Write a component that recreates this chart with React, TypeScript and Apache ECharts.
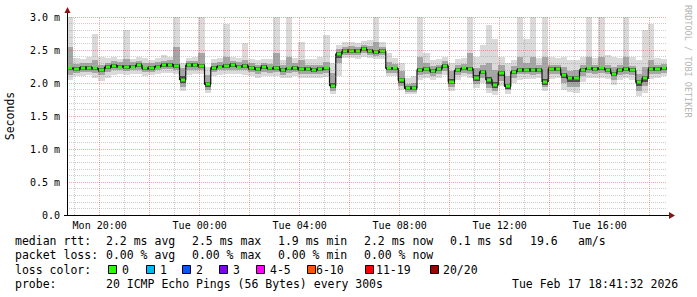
import React, { useEffect, useRef } from 'react';
import * as echarts from 'echarts';

// time axis: hours since Mon 00:00; graph ends Tue 18:41:32, 24 h window, 15 min bins
const START_HOUR = 18 + 41 / 60 + 32 / 3600;
const END_HOUR = START_HOUR + 24;
const STEP_HOURS = 0.25;

// median rtt (ms) per bin
const medianRtt = [
  2.22, 2.21, 2.23, 2.23, 2.22, 2.20, 2.24, 2.26, 2.25, 2.24,
  2.25, 2.27, 2.22, 2.23, 2.25, 2.27, 2.28, 2.26, 2.05, 2.27,
  2.27, 2.26, 1.98, 2.23, 2.25, 2.26, 2.27, 2.25, 2.26, 2.23,
  2.21, 2.24, 2.22, 2.23, 2.19, 2.22, 2.23, 2.21, 2.21, 2.20,
  2.21, 2.22, 1.96, 2.44, 2.48, 2.49, 2.48, 2.51, 2.49, 2.47,
  2.48, 2.22, 2.22, 2.04, 1.92, 1.92, 2.20, 2.21, 2.18, 2.21,
  2.26, 2.02, 2.19, 2.22, 2.21, 2.08, 2.17, 2.05, 1.97, 2.15,
  1.95, 2.17, 2.20, 2.20, 2.19, 2.20, 2.02, 2.21, 2.21, 2.12,
  2.07, 2.08, 2.20, 2.22, 2.21, 2.22, 2.20, 2.14, 2.20, 2.21,
  2.19, 2.01, 2.07, 2.21, 2.21, 2.22,
];
// slowest ping per bin
const maxRtt = [
  3.00, 2.38, 2.36, 2.40, 2.75, 2.40, 2.38, 2.40, 2.36, 2.80,
  2.37, 2.40, 2.38, 2.35, 2.38, 2.42, 2.40, 3.00, 2.30, 2.38,
  2.40, 3.00, 2.25, 2.36, 2.38, 2.90, 2.40, 2.38, 2.60, 2.36,
  2.35, 2.37, 2.36, 3.00, 2.35, 3.00, 2.38, 2.62, 2.37, 2.36,
  2.40, 2.72, 2.30, 2.58, 2.62, 2.62, 2.60, 2.64, 2.65, 3.00,
  2.62, 2.45, 2.38, 2.30, 2.08, 2.10, 3.00, 2.45, 2.35, 2.36,
  2.40, 2.30, 2.36, 2.38, 3.00, 2.40, 2.58, 2.88, 2.67, 2.40,
  2.30, 2.35, 3.00, 2.67, 3.00, 2.38, 3.00, 2.40, 2.38, 2.40,
  2.35, 2.35, 2.40, 3.00, 2.38, 3.00, 2.42, 2.40, 2.38, 3.00,
  2.40, 2.35, 2.80, 2.90, 2.38, 2.36,
];
// fastest ping per bin
const minRtt = [
  2.05, 2.10, 2.10, 2.12, 2.08, 2.03, 2.08, 2.12, 2.13, 2.12,
  2.13, 2.14, 2.10, 2.12, 2.13, 2.15, 2.15, 2.14, 1.88, 2.12,
  2.14, 2.14, 1.85, 2.10, 2.12, 2.13, 2.14, 2.13, 2.12, 2.10,
  2.08, 2.10, 2.10, 2.10, 2.07, 2.08, 2.10, 2.08, 2.08, 2.07,
  2.08, 2.09, 1.84, 2.10, 2.38, 2.38, 2.37, 2.40, 2.38, 2.37,
  2.36, 2.10, 2.10, 1.90, 1.84, 1.83, 2.05, 2.08, 2.05, 2.08,
  2.12, 1.88, 2.05, 2.10, 2.08, 1.92, 2.00, 1.85, 1.82, 1.95,
  1.84, 2.00, 2.05, 2.06, 2.06, 2.08, 1.88, 2.06, 2.08, 1.90,
  1.86, 1.85, 2.02, 2.08, 2.08, 2.08, 2.06, 1.97, 2.05, 2.07,
  2.05, 1.80, 1.85, 2.06, 2.08, 2.10,
];
// 90th percentile ping
const p90Rtt = [
  2.55, 2.29, 2.30, 2.31, 2.35, 2.28, 2.31, 2.33, 2.32, 2.36,
  2.32, 2.34, 2.30, 2.30, 2.32, 2.34, 2.35, 2.55, 2.22, 2.34,
  2.34, 2.45, 2.12, 2.30, 2.32, 2.40, 2.34, 2.32, 2.35, 2.30,
  2.28, 2.31, 2.29, 2.45, 2.27, 2.40, 2.30, 2.35, 2.28, 2.27,
  2.28, 2.32, 2.15, 2.52, 2.55, 2.56, 2.55, 2.58, 2.56, 2.62,
  2.55, 2.32, 2.29, 2.18, 1.99, 2.00, 2.40, 2.30, 2.26, 2.28,
  2.33, 2.18, 2.27, 2.29, 2.45, 2.22, 2.28, 2.30, 2.20, 2.27,
  2.10, 2.26, 2.40, 2.30, 2.40, 2.28, 2.40, 2.28, 2.28, 2.24,
  2.18, 2.19, 2.28, 2.40, 2.28, 2.40, 2.28, 2.24, 2.27, 2.40,
  2.26, 2.14, 2.25, 2.35, 2.28, 2.29,
];
// 10th percentile ping
const p10Rtt = [
  2.12, 2.15, 2.16, 2.17, 2.15, 2.12, 2.17, 2.19, 2.19, 2.18,
  2.19, 2.20, 2.16, 2.17, 2.19, 2.21, 2.21, 2.19, 1.94, 2.19,
  2.20, 2.19, 1.90, 2.16, 2.19, 2.19, 2.20, 2.19, 2.19, 2.16,
  2.14, 2.17, 2.15, 2.16, 2.12, 2.15, 2.16, 2.14, 2.14, 2.13,
  2.14, 2.15, 1.88, 2.30, 2.42, 2.43, 2.42, 2.45, 2.43, 2.41,
  2.42, 2.15, 2.15, 1.96, 1.87, 1.87, 2.12, 2.14, 2.11, 2.14,
  2.18, 1.94, 2.12, 2.15, 2.14, 1.99, 2.08, 1.93, 1.88, 2.03,
  1.89, 2.08, 2.13, 2.13, 2.12, 2.13, 1.94, 2.14, 2.14, 2.00,
  1.94, 1.94, 2.11, 2.15, 2.14, 2.15, 2.13, 2.04, 2.12, 2.14,
  2.12, 1.88, 1.95, 2.13, 2.14, 2.15,
];
// upper quartile
const q3Rtt = [
  2.25, 2.24, 2.26, 2.26, 2.25, 2.23, 2.27, 2.29, 2.28, 2.27,
  2.28, 2.30, 2.25, 2.26, 2.28, 2.30, 2.31, 2.29, 2.10, 2.30,
  2.30, 2.29, 2.02, 2.26, 2.28, 2.29, 2.30, 2.28, 2.29, 2.26,
  2.24, 2.27, 2.25, 2.26, 2.22, 2.25, 2.26, 2.24, 2.24, 2.23,
  2.24, 2.25, 2.00, 2.47, 2.51, 2.52, 2.51, 2.54, 2.52, 2.50,
  2.51, 2.25, 2.25, 2.08, 1.95, 1.95, 2.23, 2.24, 2.21, 2.24,
  2.29, 2.06, 2.22, 2.25, 2.24, 2.12, 2.20, 2.09, 2.01, 2.18,
  1.99, 2.20, 2.23, 2.23, 2.22, 2.23, 2.06, 2.24, 2.24, 2.15,
  2.10, 2.11, 2.23, 2.25, 2.24, 2.25, 2.23, 2.17, 2.23, 2.24,
  2.22, 2.05, 2.10, 2.24, 2.24, 2.25,
];
// lower quartile
const q1Rtt = [
  2.19, 2.18, 2.20, 2.20, 2.19, 2.17, 2.21, 2.23, 2.22, 2.21,
  2.22, 2.24, 2.19, 2.20, 2.22, 2.24, 2.25, 2.23, 2.00, 2.24,
  2.24, 2.23, 1.94, 2.20, 2.22, 2.23, 2.24, 2.22, 2.23, 2.20,
  2.18, 2.21, 2.19, 2.20, 2.16, 2.19, 2.20, 2.18, 2.18, 2.17,
  2.18, 2.19, 1.92, 2.38, 2.45, 2.46, 2.45, 2.48, 2.46, 2.44,
  2.45, 2.19, 2.19, 2.00, 1.89, 1.89, 2.17, 2.18, 2.15, 2.18,
  2.23, 1.98, 2.16, 2.19, 2.18, 2.03, 2.13, 1.99, 1.92, 2.10,
  1.91, 2.13, 2.17, 2.17, 2.16, 2.17, 1.97, 2.18, 2.18, 2.07,
  2.01, 2.02, 2.17, 2.19, 2.18, 2.19, 2.17, 2.10, 2.17, 2.18,
  2.16, 1.95, 2.02, 2.18, 2.18, 2.19,
];

const X_TICK_HOURS = [20, 24, 28, 32, 36, 40];
const X_TICK_LABELS = ['Mon 20:00', 'Tue 00:00', 'Tue 04:00', 'Tue 08:00', 'Tue 12:00', 'Tue 16:00'];
const HOUR_GRID = [19, 20, 21, 22, 23, 24, 25, 26, 27, 28, 29, 30, 31, 32, 33, 34, 35, 36, 37, 38, 39, 40, 41, 42];
const Y_TICK_LABELS = ['0.0', '0.5 m', '1.0 m', '1.5 m', '2.0 m', '2.5 m', '3.0 m'];

const RTT_ROW = ['median rtt:', '2.2 ms avg', '2.5 ms max', '1.9 ms min', '2.2 ms now', '0.1 ms sd', '19.6', 'am/s'];
const LOSS_ROW = ['packet loss:', '0.00 % avg', '0.00 % max', '0.00 % min', '0.00 % now'];
const LOSS_LABELS = ['0', '1', '2', '3', '4-5', '6-10', '11-19', '20/20'];
const LOSS_COLORS = ['#26ff00', '#00b8ff', '#0059ff', '#7e00ff', '#ff00ff', '#ff5500', '#ff0000', '#a10000'];
const PROBE_ROW = ['probe:', '20 ICMP Echo Pings (56 Bytes) every 300s', 'Tue Feb 17 18:41:32 2026'];

// layout (pixels)
const COL_X = [15, 106, 192, 278, 364, 450, 530, 578];
const BOX_X = [108, 146, 182, 219, 256, 307, 365, 430];
const LOSS_LABEL_X = [122, 160, 196, 233, 270, 316, 376, 443];
const ROW_Y = [241, 255, 269.5, 283.5];
const MONO = 'DejaVu Sans Mono';

const binTime = (i: number) => START_HOUR + (i + 0.5) * STEP_HOURS;

export default function App() {
  const ref = useRef<HTMLDivElement>(null);
  useEffect(() => {
    if (!ref.current) return;
    const chart = echarts.init(ref.current, undefined, { renderer: 'svg' });

    const smokeData = medianRtt.map((_, i) => [binTime(i), minRtt[i], p10Rtt[i], q1Rtt[i], q3Rtt[i], p90Rtt[i], maxRtt[i]]);
    const medData = medianRtt.map((v, i) => [binTime(i), v]);

    const txt = (x: number, y: number, text: string, extra: any = {}) => ({
      type: 'text', x, y, silent: true,
      style: { text, fill: '#000', font: `11.5px "${MONO}"`, textVerticalAlign: 'middle', textAlign: 'left', ...extra },
    });

    const graphics: any[] = [];
    RTT_ROW.forEach((s, i) => graphics.push(txt(COL_X[i], ROW_Y[0], s)));
    LOSS_ROW.forEach((s, i) => graphics.push(txt(COL_X[i], ROW_Y[1], s)));
    graphics.push(txt(COL_X[0], ROW_Y[2], 'loss color:'));
    LOSS_LABELS.forEach((s, i) => {
      graphics.push({ type: 'rect', silent: true, shape: { x: BOX_X[i] + 0.5, y: 265.5, width: 8, height: 8 }, style: { fill: LOSS_COLORS[i], stroke: '#000', lineWidth: 1 } });
      graphics.push(txt(LOSS_LABEL_X[i], ROW_Y[2], s));
    });
    graphics.push(txt(COL_X[0], ROW_Y[3], PROBE_ROW[0]));
    graphics.push(txt(COL_X[1], ROW_Y[3], PROBE_ROW[1]));
    graphics.push(txt(512, ROW_Y[3], PROBE_ROW[2]));
    // y axis title
    graphics.push({ type: 'text', x: 10, y: 116, rotation: Math.PI / 2, silent: true, style: { text: 'Seconds', fill: '#000', font: `11.5px "${MONO}"`, textAlign: 'center', textVerticalAlign: 'middle' } });
    // watermark
    graphics.push({ type: 'text', x: 688, y: 5, rotation: -Math.PI / 2, silent: true, style: { text: 'RRDTOOL / TOBI OETIKER', fill: '#b4b4b4', font: `8.5px "${MONO}"`, textAlign: 'left', textVerticalAlign: 'middle' } });
    // axis extensions and arrows
    graphics.push({ type: 'line', silent: true, shape: { x1: 67.5, y1: 17, x2: 67.5, y2: 11 }, style: { stroke: '#000', lineWidth: 1 }, z: 100 });
    graphics.push({ type: 'line', silent: true, shape: { x1: 64, y1: 215.5, x2: 670, y2: 215.5 }, style: { stroke: '#000', lineWidth: 1 }, z: 100 });
    graphics.push({ type: 'polygon', silent: true, shape: { points: [[64.5, 13], [70.5, 13], [67.5, 7]] }, style: { fill: '#8b1010' }, z: 100 });
    graphics.push({ type: 'polygon', silent: true, shape: { points: [[669, 212], [669, 219], [675, 215.5]] }, style: { fill: '#8b1010' }, z: 100 });

    const majorColor = 'rgba(230,60,60,0.45)';
    const minorColor = 'rgba(130,130,130,0.38)';

    chart.setOption({
      animation: false,
      backgroundColor: '#fff',
      grid: { left: 67, top: 17, width: 600, height: 198, containLabel: false },
      xAxis: {
        type: 'value', min: START_HOUR, max: END_HOUR, z: 5,
        axisLine: { show: true, lineStyle: { color: '#000', width: 1 } },
        axisTick: { show: false },
        splitLine: { show: false },
        axisLabel: {
          customValues: X_TICK_HOURS,
          formatter: (v: number) => X_TICK_LABELS[X_TICK_HOURS.indexOf(Math.round(v))] ?? '',
          fontFamily: MONO, fontSize: 10, color: '#000', margin: 5,
        },
      },
      yAxis: {
        type: 'value', min: 0, max: 3, interval: 0.5, z: 5,
        axisLine: { show: true, lineStyle: { color: '#000', width: 1 } },
        axisTick: { show: false },
        axisLabel: {
          formatter: (v: number) => Y_TICK_LABELS[Math.round(v / 0.5)],
          fontFamily: MONO, fontSize: 10, color: '#000', margin: 7,
        },
        splitLine: { show: true, lineStyle: { color: majorColor, type: [1, 1], width: 1 } },
        minorTick: { show: false, splitNumber: 5 },
        minorSplitLine: { show: true, lineStyle: { color: minorColor, type: [1, 1], width: 1 } },
      },
      series: [
        {
          type: 'custom', z: 2, clip: true, silent: true,
          data: smokeData,
          encode: { x: 0, y: [1, 6] },
          renderItem: (params: any, api: any) => {
            const t = api.value(0);
            const xa = Math.round(api.coord([t - STEP_HOURS / 2, 0])[0]);
            const xb = Math.round(api.coord([t + STEP_HOURS / 2, 0])[0]);
            const band = (lo: number, hi: number, fill: string) => {
              const y1 = Math.round(api.coord([t, hi])[1]);
              const y2 = Math.round(api.coord([t, lo])[1]);
              return { type: 'rect', shape: { x: xa, y: y1, width: xb - xa, height: Math.max(1, y2 - y1) }, style: { fill } };
            };
            return {
              type: 'group',
              children: [
                band(api.value(1), api.value(6), '#dadada'),
                band(api.value(2), api.value(5), '#a6a6a6'),
                band(api.value(3), api.value(4), '#4a4a4a'),
              ],
            };
          },
        },
        {
          type: 'line', z: 3, silent: true,
          data: medData, step: 'middle', symbol: 'none',
          lineStyle: { color: '#111', width: 1.2 },
        },
        {
          type: 'custom', z: 4, clip: true, silent: true,
          data: medData,
          encode: { x: 0, y: 1 },
          renderItem: (params: any, api: any) => {
            const t = api.value(0);
            const v = api.value(1);
            const xa = Math.round(api.coord([t - STEP_HOURS / 2, v])[0]) + 1;
            const xb = Math.round(api.coord([t + STEP_HOURS / 2, v])[0]) - 1;
            const y = Math.round(api.coord([t, v])[1]);
            return { type: 'rect', shape: { x: xa, y: y - 1.5, width: xb - xa, height: 3 }, style: { fill: LOSS_COLORS[0] } };
          },
        },
        {
          type: 'line', z: 5, silent: true, data: [],
          markLine: {
            silent: true, symbol: ['none', 'none'], label: { show: false }, animation: false,
            data: HOUR_GRID.map((h) => ({
              xAxis: h,
              lineStyle: { color: h % 2 === 0 ? majorColor : minorColor, type: [1, 1], width: 1 },
            })),
          },
        },
      ],
      graphic: graphics,
    });
    return () => chart.dispose();
  }, []);
  return <div ref={ref} style={{ position: 'fixed', left: 0, top: 0, width: 697, height: 297, background: '#fff' }} />;
}
